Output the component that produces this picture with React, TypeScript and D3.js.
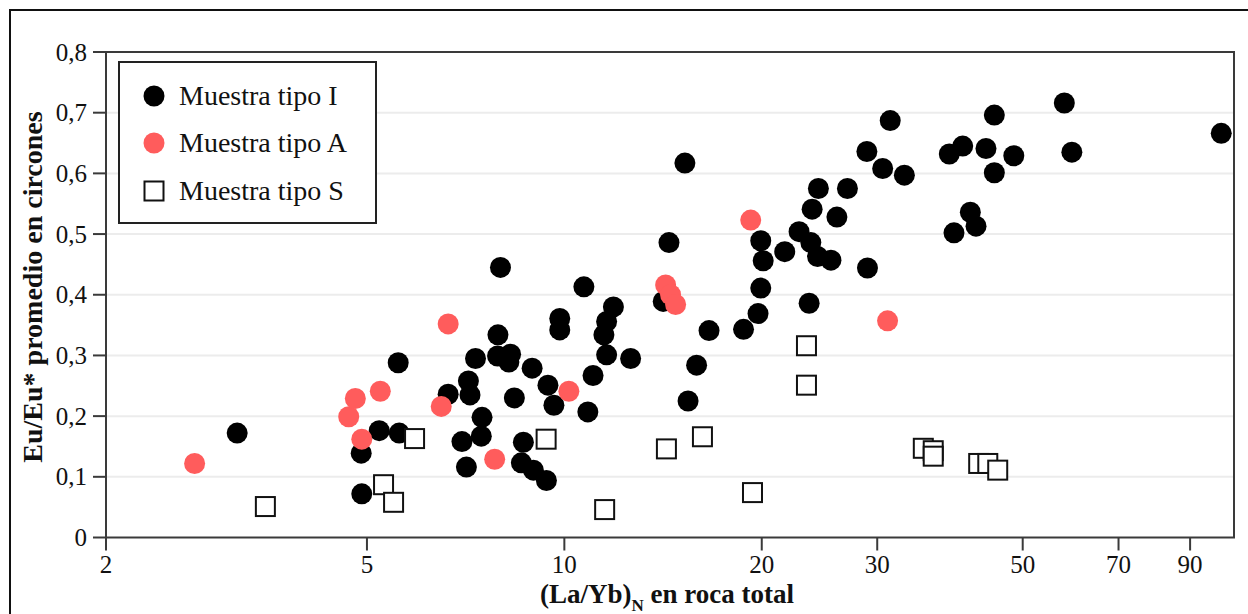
import React from "react";
import * as d3 from "d3";

// (La/Yb)N in whole rock vs. mean Eu/Eu* in zircon, per sample type
const tipoI: [number, number][] = [
  [3.17, 0.172], [4.9, 0.139], [4.91, 0.072], [5.22, 0.176], [5.58, 0.288], [5.6, 0.172],
  [6.65, 0.236], [6.98, 0.158], [7.09, 0.116], [7.14, 0.258], [7.18, 0.235], [7.32, 0.295],
  [7.49, 0.198], [7.47, 0.167], [7.92, 0.334], [7.91, 0.299], [7.99, 0.445], [8.28, 0.302],
  [8.23, 0.289], [8.39, 0.23], [8.66, 0.157], [8.6, 0.123], [8.93, 0.279], [8.97, 0.111],
  [9.39, 0.094], [9.44, 0.251], [9.64, 0.218], [9.84, 0.361], [9.84, 0.342], [10.71, 0.413],
  [10.86, 0.207], [11.06, 0.267], [11.49, 0.334], [11.6, 0.356], [11.6, 0.301], [11.88, 0.38],
  [12.62, 0.295], [14.15, 0.389], [14.44, 0.486], [15.27, 0.617], [15.44, 0.225], [15.91, 0.284],
  [16.62, 0.341], [18.76, 0.343], [19.74, 0.369], [19.93, 0.489], [19.93, 0.411], [20.1, 0.456],
  [21.68, 0.471], [22.8, 0.504], [23.62, 0.386], [23.76, 0.486], [23.87, 0.541], [24.4, 0.575],
  [24.33, 0.463], [25.5, 0.457], [26.04, 0.528], [27.02, 0.575], [28.93, 0.636], [28.99, 0.444],
  [30.58, 0.608], [31.4, 0.687], [33.0, 0.597], [38.64, 0.632], [39.28, 0.502], [40.5, 0.645],
  [41.6, 0.536], [42.44, 0.513], [43.95, 0.641], [45.26, 0.601], [45.26, 0.696], [48.46, 0.629],
  [57.87, 0.716], [59.42, 0.635], [100.4, 0.666],
];

const tipoA: [number, number][] = [
  [2.73, 0.122], [4.69, 0.199], [4.8, 0.229], [4.91, 0.162], [5.24, 0.241], [6.49, 0.216],
  [6.65, 0.352], [7.83, 0.129], [10.16, 0.241], [14.27, 0.416], [14.52, 0.4], [14.78, 0.384],
  [19.24, 0.523], [31.11, 0.357],
];

const tipoS: [number, number][] = [
  [3.5, 0.051], [5.3, 0.087], [5.49, 0.058], [5.91, 0.163], [9.38, 0.162], [11.52, 0.046],
  [14.31, 0.146], [16.24, 0.166], [19.36, 0.074], [23.4, 0.316], [23.4, 0.251], [35.27, 0.147],
  [36.52, 0.143], [36.52, 0.134], [42.84, 0.122], [44.23, 0.122], [45.8, 0.111],
];

const xTicks = [2, 5, 10, 20, 30, 50, 70, 90];
const yTicks = [0, 0.1, 0.2, 0.3, 0.4, 0.5, 0.6, 0.7, 0.8];
const legendLabels = ["Muestra tipo I", "Muestra tipo A", "Muestra tipo S"];

const W = 1248;
const H = 614;
const plot = { left: 106, right: 1234, top: 52, bottom: 537.5 };
const serif = "'Liberation Serif', 'Times New Roman', serif";
const axisColor = "#3a3a3a";
const red = "#ff5c5c";
const R = 10.5;
const SQ = 19;

export default function App() {
  const x = d3.scaleLog().domain([2, 105]).range([plot.left, plot.right]);
  const y = d3.scaleLinear().domain([0, 0.8]).range([plot.bottom, plot.top]);
  const fmtY = (v: number) => (v === 0 ? "0" : d3.format(".1f")(v).replace(".", ","));

  const legendY = [96, 143, 191];

  return (
    <svg
      width={W}
      height={H}
      style={{ position: "absolute", left: 0, top: 0, background: "#fff" }}
      fontFamily={serif}
    >
      <rect x={0} y={0} width={W} height={H} fill="#fff" />
      {/* outer frame */}
      <rect x={10} y={10} width={1260} height={640} fill="none" stroke="#111" strokeWidth={2} />

      {/* gridlines */}
      {yTicks.slice(1, -1).map((t) => (
        <line key={"g" + t} x1={plot.left} x2={plot.right} y1={y(t)} y2={y(t)} stroke="#ececec" strokeWidth={2} />
      ))}

      {/* plot border */}
      <rect
        x={plot.left}
        y={plot.top}
        width={plot.right - plot.left}
        height={plot.bottom - plot.top}
        fill="none"
        stroke={axisColor}
        strokeWidth={2}
      />

      {/* y axis ticks */}
      {yTicks.map((t) => (
        <g key={"y" + t}>
          <line x1={plot.left - 13} x2={plot.left} y1={y(t)} y2={y(t)} stroke={axisColor} strokeWidth={2} />
          <text x={87} y={y(t)} dy="0.34em" textAnchor="end" fontSize={25} fill="#111">
            {fmtY(t)}
          </text>
        </g>
      ))}

      {/* x axis ticks */}
      {xTicks.map((t) => (
        <g key={"x" + t}>
          <line x1={x(t)} x2={x(t)} y1={plot.bottom} y2={plot.bottom + 13} stroke={axisColor} strokeWidth={2} />
          <text x={x(t)} y={573} textAnchor="middle" fontSize={25} fill="#111">
            {t}
          </text>
        </g>
      ))}

      {/* axis titles */}
      <text x={667} y={603} textAnchor="middle" fontSize={27} fontWeight="bold" fill="#111">
        (La/Yb)
        <tspan fontSize={17} dy={8}>N</tspan>
        <tspan dy={-8}> en roca total</tspan>
      </text>
      <text
        transform="translate(42,287) rotate(-90)"
        textAnchor="middle"
        fontSize={28}
        fontWeight="bold"
        fill="#111"
      >
        Eu/Eu* promedio en circones
      </text>

      {/* data */}
      <g>
        {tipoI.map((d, i) => (
          <circle key={"i" + i} cx={x(d[0])} cy={y(d[1])} r={R} fill="#000" />
        ))}
      </g>
      <g>
        {tipoA.map((d, i) => (
          <circle key={"a" + i} cx={x(d[0])} cy={y(d[1])} r={R} fill={red} />
        ))}
      </g>
      <g>
        {tipoS.map((d, i) => (
          <rect
            key={"s" + i}
            x={x(d[0]) - SQ / 2}
            y={y(d[1]) - SQ / 2}
            width={SQ}
            height={SQ}
            fill="#fff"
            stroke="#111"
            strokeWidth={2}
          />
        ))}
      </g>

      {/* legend */}
      <rect x={119} y={62} width={257} height={161} fill="#fff" stroke="#222" strokeWidth={2} />
      <circle cx={154} cy={legendY[0]} r={R} fill="#000" />
      <circle cx={154} cy={legendY[1]} r={R} fill={red} />
      <rect x={154 - SQ / 2} y={legendY[2] - SQ / 2} width={SQ} height={SQ} fill="#fff" stroke="#111" strokeWidth={2} />
      {legendLabels.map((l, i) => (
        <text key={l} x={179} y={legendY[i] + 9} fontSize={28} fill="#111">
          {l}
        </text>
      ))}
    </svg>
  );
}
